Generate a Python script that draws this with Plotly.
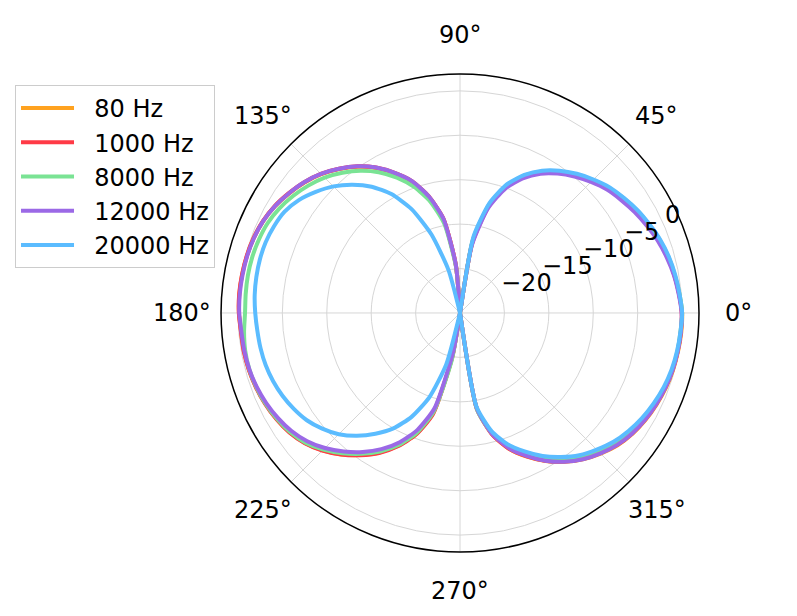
import math
import plotly.graph_objects as go

# angles in degrees, 5 degree steps (0 = right, counterclockwise)
angles = list(range(0, 360, 5))

# level in dB, one value per angle
hz_80 = [
    0, -0.25, -0.5, -0.78, -1.12, -1.58, -2.05, -2.6, -3.2, -3.95,
    -4.75, -5.65, -6.7, -8.05, -9.85, -12.5, -16.8, -25, -25,
    -19.6, -14.3, -11.5, -9.3, -7.65, -6.15, -4.9, -3.85, -2.9, -2.15,
    -1.52, -0.95, -0.55, -0.3, -0.17, -0.1, -0.07,
    -0.12,
    -0.27, -0.3, -0.4, -0.57, -0.82, -1.15, -1.58, -2.22, -3.12, -4.22,
    -5.48, -6.85, -8.5, -10.45, -13.3, -20.0, -25,
    -25,
    -25, -14.1, -10.8, -8.7, -7.15, -5.75, -4.55, -3.5, -2.62, -1.85,
    -1.3, -0.9, -0.6, -0.35, -0.18, -0.08, 0,
]
hz_1000 = [
    -0.05, -0.25, -0.5, -0.8, -1.15, -1.6, -2.1, -2.65, -3.25, -4.0,
    -4.8, -5.7, -6.75, -8.1, -9.9, -12.6, -16.9, -25, -25,
    -19.5, -14.2, -11.4, -9.2, -7.6, -6.1, -4.85, -3.8, -2.85, -2.1,
    -1.48, -0.92, -0.52, -0.28, -0.15, -0.08, -0.05,
    -0.1,
    -0.25, -0.28, -0.38, -0.55, -0.8, -1.12, -1.55, -2.2, -3.1, -4.2,
    -5.45, -6.8, -8.45, -10.4, -13.2, -20.0, -25,
    -25,
    -25, -14.0, -10.75, -8.7, -7.2, -5.8, -4.6, -3.55, -2.7, -1.9,
    -1.35, -0.95, -0.65, -0.4, -0.22, -0.12, -0.05,
]
hz_8000 = [
    0, -0.2, -0.45, -0.7, -1.05, -1.5, -1.95, -2.5, -3.1, -3.85,
    -4.65, -5.55, -6.6, -7.95, -9.75, -12.4, -16.6, -25, -25,
    -19.8, -14.8, -12.0, -9.9, -8.2, -6.7, -5.45, -4.4, -3.45, -2.7,
    -2.05, -1.5, -1.1, -0.9, -0.78, -0.75, -0.78,
    -0.8,
    -0.6, -0.45, -0.45, -0.6, -0.85, -1.2, -1.65, -2.3, -3.25, -4.4,
    -5.65, -7.0, -8.6, -10.6, -13.5, -19.5, -25,
    -25,
    -25, -13.9, -10.9, -8.95, -7.5, -6.1, -4.9, -3.8, -2.95, -2.15,
    -1.55, -1.1, -0.75, -0.45, -0.25, -0.15, -0.1,
]
hz_12000 = [
    -0.05, -0.3, -0.55, -0.9, -1.3, -1.8, -2.3, -2.85, -3.4, -4.15,
    -4.95, -5.85, -6.9, -8.3, -10.1, -12.8, -17.2, -25, -25,
    -19.5, -14.2, -11.4, -9.2, -7.6, -6.1, -4.85, -3.8, -2.85, -2.1,
    -1.5, -0.95, -0.55, -0.32, -0.2, -0.15, -0.12,
    -0.15,
    -0.3, -0.35, -0.45, -0.65, -0.95, -1.35, -1.85, -2.55, -3.5, -4.65,
    -5.9, -7.3, -8.95, -11.0, -13.9, -20.5, -25,
    -25,
    -25, -14.1, -10.85, -8.8, -7.25, -5.8, -4.55, -3.5, -2.65, -1.9,
    -1.35, -0.95, -0.65, -0.4, -0.22, -0.12, -0.05,
]
hz_20000 = [
    0, -0.2, -0.4, -0.65, -1.0, -1.45, -1.9, -2.45, -3.0, -3.75,
    -4.55, -5.45, -6.5, -7.85, -9.6, -12.2, -16.3, -25, -25,
    -25, -25, -20.0, -15.6, -12.1, -9.55, -7.65, -6.15, -4.85, -3.8,
    -2.85, -2.2, -1.9, -1.72, -1.68, -1.72, -1.8,
    -1.95,
    -2.1, -2.2, -2.35, -2.6, -2.95, -3.4, -3.95, -4.75, -5.7, -6.95,
    -8.4, -10.0, -12.1, -14.9, -19.0, -25, -25,
    -25,
    -25, -14.3, -11.2, -9.25, -7.8, -6.4, -5.2, -4.1, -3.25, -2.45,
    -1.85, -1.35, -0.95, -0.6, -0.35, -0.2, -0.1,
]

series = [
    ("80 Hz", hz_80, "#ffa21f"),
    ("1000 Hz", hz_1000, "#ff3a46"),
    ("8000 Hz", hz_8000, "#7ae394"),
    ("12000 Hz", hz_12000, "#9b69e6"),
    ("20000 Hz", hz_20000, "#5bbcff"),
]

r_range = [-25, 1.9]
radial_ticks = [-20, -15, -10, -5, 0]
radial_labels = ["\u221220", "\u221215", "\u221210", "\u22125", "0"]
radial_label_angle = 22.5

angle_ticks = [0, 45, 90, 135, 180, 225, 270, 315]
angle_labels = ["0°", "45°", "90°", "135°", "180°", "225°", "270°", "315°"]

fig = go.Figure()
for name, vals, color in series:
    fig.add_trace(go.Scatterpolar(
        r=vals + vals[:1],
        theta=angles + [360],
        mode="lines",
        name="\u00a0\u00a0" + name,
        line=dict(color=color, width=4, shape="spline", smoothing=0.6),
    ))

# polar domain (page body has an 8px margin, so it is nudged up-left)
W, H = 797, 616
dom_x = [0.2673, 0.8670]
dom_y = [0.1169, 0.8929]
cx = sum(dom_x) / 2
cy = sum(dom_y) / 2
R_px = (dom_x[1] - dom_x[0]) * W / 2
label_r = 278  # px from centre, as matplotlib centres its theta labels

annotations = []
for a, lab in zip(angle_ticks, angle_labels):
    annotations.append(dict(
        x=cx + label_r * math.cos(math.radians(a)) / W,
        y=cy + label_r * math.sin(math.radians(a)) / H,
        xref="paper", yref="paper",
        text=lab, showarrow=False,
        xanchor="center", yanchor="middle",
        font=dict(size=24),
    ))

# radial labels sit just above-right of where each ring meets the 22.5° line
ca = math.cos(math.radians(radial_label_angle))
sa = math.sin(math.radians(radial_label_angle))
for v, lab in zip(radial_ticks, radial_labels):
    rp = (v - r_range[0]) / (r_range[1] - r_range[0]) * R_px
    annotations.append(dict(
        x=cx + rp * ca / W,
        y=cy + rp * sa / H,
        xref="paper", yref="paper",
        text=lab, showarrow=False,
        xanchor="left", yanchor="bottom",
        xshift=-2, yshift=-3,
        font=dict(size=24),
    ))

font = "DejaVu Sans, Arial, sans-serif"
fig.update_layout(
    width=W,
    height=H,
    margin=dict(l=0, r=0, t=0, b=0),
    paper_bgcolor="white",
    font=dict(family=font, size=24, color="black"),
    annotations=annotations,
    polar=dict(
        domain=dict(x=dom_x, y=dom_y),
        bgcolor="white",
        radialaxis=dict(
            range=r_range,
            tickvals=radial_ticks,
            angle=radial_label_angle,
            showticklabels=False,
            showline=False,
            ticks="",
            gridcolor="#d6d6d6",
            gridwidth=1,
        ),
        angularaxis=dict(
            dtick=45,
            rotation=0,
            direction="counterclockwise",
            gridcolor="#d6d6d6",
            gridwidth=1,
            linecolor="black",
            linewidth=1.5,
            ticks="",
            showticklabels=False,
        ),
    ),
    legend=dict(
        x=0.0088,
        y=0.8750,
        xanchor="left",
        yanchor="top",
        bordercolor="#cccccc",
        borderwidth=1,
        bgcolor="white",
        itemwidth=53,
        font=dict(size=24),
    ),
)

fig.write_html("out.html")
